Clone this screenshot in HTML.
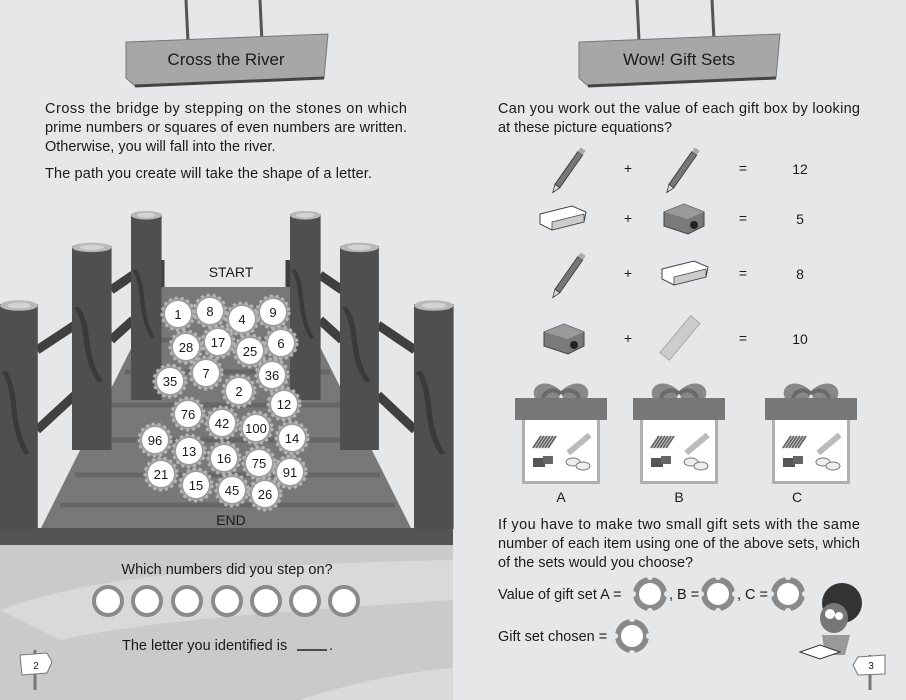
<!DOCTYPE html>
<html><head><meta charset="utf-8"><style>
html,body{margin:0;padding:0;background:#e6e7e8}
svg{display:block}
text{font-family:"Liberation Sans",sans-serif;fill:#1a1a1a}
</style></head><body>
<svg width="906" height="700" viewBox="0 0 906 700" xmlns="http://www.w3.org/2000/svg">
<defs>
<g id="stone">
<circle r="16" fill="#9a9a9a" stroke="#b5b5b5" stroke-width="3" stroke-dasharray="3 3"/>
<circle r="13" fill="#fff"/>
</g>
<g id="ans">
<circle r="17" fill="#8a8a8a"/>
<circle r="11" fill="#fff"/>
<circle cx="0" cy="-17" r="3" fill="#e6e7e8"/><circle cx="0" cy="17" r="3" fill="#e6e7e8"/>
<circle cx="-17" cy="0" r="3" fill="#e6e7e8"/><circle cx="17" cy="0" r="3" fill="#e6e7e8"/>
</g>
<g id="post">
<rect x="0" y="0" width="36" height="300" fill="#4f4f4f"/>
<path d="M4 90 C18 120 8 160 26 200" stroke="#3a3a3a" stroke-width="5" fill="none"/>
<ellipse cx="18" cy="2" rx="18" ry="7" fill="#b8b8b8"/>
<ellipse cx="18" cy="2" rx="11" ry="4" fill="#d3d3d3"/>
</g>
<g id="pencil"><g transform="rotate(-55)">
<rect x="-22" y="-3" width="40" height="6" fill="#777" stroke="#333" stroke-width="0.8"/>
<polygon points="-22,-3 -30,0 -22,3" fill="#ddd" stroke="#333" stroke-width="0.8"/>
<rect x="18" y="-3" width="5" height="6" fill="#aaa"/></g></g>
<g id="eraser"><path d="M-22 -4 L10 -12 L24 -6 L22 4 L-10 12 L-22 6 Z" fill="#fff" stroke="#444" stroke-width="1"/><path d="M-10 4 L22 -4 L22 4 L-10 12Z" fill="#ccc" stroke="#444" stroke-width="0.8"/></g>
<g id="sharp"><path d="M-20 -6 L0 -14 L20 -6 L20 8 L4 16 L-20 8Z" fill="#7a7a7a" stroke="#444"/><path d="M-20 -6 L0 -14 L20 -6 L4 1Z" fill="#9a9a9a"/><circle cx="10" cy="7" r="4" fill="#222"/></g>
<g id="gift">
<path d="M46 5 C30 -10 14 0 20 12 L44 12Z" fill="#888"/><path d="M46 5 C62 -10 78 0 72 12 L48 12Z" fill="#888"/>
<path d="M28 12 C30 4 40 2 46 8" stroke="#6a6a6a" stroke-width="4" fill="none"/>
<path d="M64 12 C62 4 52 2 46 8" stroke="#6a6a6a" stroke-width="4" fill="none"/>
<rect x="0" y="12" width="92" height="22" fill="#777"/>
<rect x="7" y="34" width="78" height="64" fill="#b0b0b0"/>
<rect x="10" y="34" width="72" height="61" fill="#fff"/>
<g stroke="#666" stroke-width="2"><path d="M18 62 L26 50 M21 62 L29 50 M24 62 L32 50 M27 62 L35 50 M30 62 L38 50 M33 62 L41 50"/></g>
<rect x="50" y="55" width="28" height="6" fill="#bbb" transform="rotate(-40 64 58)"/>
<rect x="18" y="72" width="12" height="9" fill="#555"/><rect x="28" y="70" width="10" height="8" fill="#666"/>
<ellipse cx="58" cy="76" rx="7" ry="4" fill="#eee" stroke="#777"/><ellipse cx="68" cy="80" rx="7" ry="4" fill="#eee" stroke="#777"/>
</g>
</defs>

<g stroke="#555" stroke-width="3"><line x1="186" y1="0" x2="188" y2="42"/><line x1="260" y1="0" x2="262" y2="42"/>
<line x1="637" y1="0" x2="639" y2="40"/><line x1="712" y1="0" x2="714" y2="40"/></g>
<path d="M126 42 L328 34 L324 78 L135 86 L126 78Z" fill="#a7a7a7" stroke="#777"/>
<path d="M135 86 L324 78" stroke="#444" stroke-width="3"/>
<text x="226" y="65" font-size="17" text-anchor="middle">Cross the River</text>
<path d="M579 42 L780 34 L776 78 L588 86 L579 78Z" fill="#a7a7a7" stroke="#777"/>
<path d="M588 86 L776 78" stroke="#444" stroke-width="3"/>
<text x="679" y="65" font-size="17" text-anchor="middle">Wow! Gift Sets</text>

<g font-size="14.5">
<text x="45" y="113" textLength="362" lengthAdjust="spacing">Cross the bridge by stepping on the stones on which</text>
<text x="45" y="132" textLength="362" lengthAdjust="spacing">prime numbers or squares of even numbers are written.</text>
<text x="45" y="151">Otherwise, you will fall into the river.</text>
<text x="45" y="178" textLength="327" lengthAdjust="spacing">The path you create will take the shape of a letter.</text>
</g>

<rect x="0" y="545" width="453" height="155" fill="#cacaca"/>
<path d="M0 610 C80 580 200 565 453 560 L453 600 C300 610 150 620 60 640 Z" fill="#d9d9d9"/>
<path d="M300 700 C360 680 420 670 453 668 L453 700Z" fill="#dadada"/>

<g stroke="#3f3f3f" stroke-width="9" fill="none">
<path d="M37 350 L75 325 M37 430 L75 395 M111 290 L133 275 M111 340 L133 320"/>
<path d="M378 325 L415 350 M378 395 L415 430 M320 275 L342 290 M320 320 L342 340"/>
<path d="M160 260 L160 290 M290 260 L290 290"/>
</g>
<polygon points="162,287 290,287 412,530 40,530" fill="#787878"/>
<g stroke="#666" stroke-width="5">
<line x1="150" y1="312" x2="302" y2="312"/><line x1="140" y1="340" x2="316" y2="340"/><line x1="125" y1="372" x2="330" y2="372"/>
<line x1="110" y1="405" x2="345" y2="405"/><line x1="92" y1="440" x2="360" y2="440"/><line x1="75" y1="475" x2="380" y2="475"/><line x1="60" y1="505" x2="395" y2="505"/>
</g>
<rect x="0" y="528" width="453" height="17" fill="#545454"/>
<use href="#post" transform="translate(131,214) scale(0.85,0.62)"/>
<use href="#post" transform="translate(290,214) scale(0.85,0.62)"/>
<use href="#post" transform="translate(72,246) scale(1.1,0.68)"/>
<use href="#post" transform="translate(340,246) scale(1.08,0.68)"/>
<use href="#post" transform="translate(0,304) scale(1.05,0.75)"/>
<use href="#post" transform="translate(414,304) scale(1.1,0.75)"/>

<text x="231" y="277" font-size="14" text-anchor="middle">START</text>
<text x="231" y="525" font-size="14" text-anchor="middle">END</text>

<g font-size="13" text-anchor="middle">
<use href="#stone" x="178" y="314"/><text x="178" y="319">1</text>
<use href="#stone" x="210" y="311"/><text x="210" y="316">8</text>
<use href="#stone" x="242" y="319"/><text x="242" y="324">4</text>
<use href="#stone" x="273" y="312"/><text x="273" y="317">9</text>
<use href="#stone" x="186" y="347"/><text x="186" y="352">28</text>
<use href="#stone" x="218" y="342"/><text x="218" y="347">17</text>
<use href="#stone" x="250" y="351"/><text x="250" y="356">25</text>
<use href="#stone" x="281" y="343"/><text x="281" y="348">6</text>
<use href="#stone" x="170" y="381"/><text x="170" y="386">35</text>
<use href="#stone" x="206" y="373"/><text x="206" y="378">7</text>
<use href="#stone" x="239" y="391"/><text x="239" y="396">2</text>
<use href="#stone" x="272" y="375"/><text x="272" y="380">36</text>
<use href="#stone" x="284" y="404"/><text x="284" y="409">12</text>
<use href="#stone" x="188" y="414"/><text x="188" y="419">76</text>
<use href="#stone" x="222" y="423"/><text x="222" y="428">42</text>
<use href="#stone" x="256" y="428"/><text x="256" y="433">100</text>
<use href="#stone" x="292" y="438"/><text x="292" y="443">14</text>
<use href="#stone" x="155" y="440"/><text x="155" y="445">96</text>
<use href="#stone" x="189" y="451"/><text x="189" y="456">13</text>
<use href="#stone" x="224" y="458"/><text x="224" y="463">16</text>
<use href="#stone" x="259" y="463"/><text x="259" y="468">75</text>
<use href="#stone" x="290" y="472"/><text x="290" y="477">91</text>
<use href="#stone" x="161" y="474"/><text x="161" y="479">21</text>
<use href="#stone" x="196" y="485"/><text x="196" y="490">15</text>
<use href="#stone" x="232" y="490"/><text x="232" y="495">45</text>
<use href="#stone" x="265" y="494"/><text x="265" y="499">26</text>
</g>

<text x="227" y="574" font-size="14.5" text-anchor="middle">Which numbers did you step on?</text>
<g fill="#fff" stroke="#8a8a8a" stroke-width="4">
<circle cx="108" cy="601" r="14"/><circle cx="147" cy="601" r="14"/><circle cx="187" cy="601" r="14"/><circle cx="227" cy="601" r="14"/><circle cx="266" cy="601" r="14"/><circle cx="305" cy="601" r="14"/><circle cx="344" cy="601" r="14"/>
</g>
<text x="122" y="650" font-size="14.5">The letter you identified is</text>
<line x1="297" y1="650" x2="327" y2="650" stroke="#222" stroke-width="1.5"/>
<text x="329" y="650" font-size="14.5">.</text>
<line x1="35" y1="650" x2="35" y2="690" stroke="#777" stroke-width="3"/>
<path d="M20 655 L47 653 L52 662 L47 673 L22 675Z" fill="#fff" stroke="#777"/>
<text x="36" y="669" font-size="10" text-anchor="middle">2</text>

<g font-size="14.5">
<text x="498" y="113" textLength="362" lengthAdjust="spacing">Can you work out the value of each gift box by looking</text>
<text x="498" y="132">at these picture equations?</text>
</g>
<g font-size="14" text-anchor="middle">
<use href="#pencil" x="570" y="168"/><text x="628" y="173">+</text><use href="#pencil" x="684" y="168"/><text x="743" y="173">=</text><text x="800" y="174">12</text>
<use href="#eraser" x="562" y="218"/><text x="628" y="223">+</text><use href="#sharp" x="684" y="218"/><text x="743" y="223">=</text><text x="800" y="224">5</text>
<use href="#pencil" x="570" y="273"/><text x="628" y="278">+</text><use href="#eraser" x="684" y="273"/><text x="743" y="278">=</text><text x="800" y="279">8</text>
<use href="#sharp" x="564" y="338"/><text x="628" y="343">+</text>
<g transform="translate(680,338) rotate(-50)"><rect x="-24" y="-6" width="48" height="12" fill="#ccc" stroke="#aaa"/></g>
<text x="743" y="343">=</text><text x="800" y="344">10</text>
</g>

<use href="#gift" x="515" y="386"/>
<use href="#gift" x="633" y="386"/>
<use href="#gift" x="765" y="386"/>
<g font-size="14" text-anchor="middle"><text x="561" y="502">A</text><text x="679" y="502">B</text><text x="797" y="502">C</text></g>

<g font-size="14.5">
<text x="498" y="529" textLength="362" lengthAdjust="spacing">If you have to make two small gift sets with the same</text>
<text x="498" y="548" textLength="362" lengthAdjust="spacing">number of each item using one of the above sets, which</text>
<text x="498" y="567">of the sets would you choose?</text>
<text x="498" y="599">Value of gift set A =</text>
<text x="669" y="599">, B =</text>
<text x="737" y="599">, C =</text>
<text x="498" y="641">Gift set chosen =</text>
</g>
<use href="#ans" x="650" y="594"/>
<use href="#ans" x="718" y="594"/>
<use href="#ans" x="788" y="594"/>
<use href="#ans" x="632" y="636"/>

<circle cx="842" cy="603" r="20" fill="#333"/>
<ellipse cx="834" cy="618" rx="14" ry="15" fill="#777"/>
<circle cx="830" cy="614" r="5" fill="#fff"/><circle cx="839" cy="616" r="4" fill="#fff"/>
<path d="M822 635 L850 635 L845 655 L825 655Z" fill="#999"/>
<path d="M800 652 L820 645 L840 652 L820 659Z" fill="#fff" stroke="#333"/>
<line x1="870" y1="655" x2="870" y2="690" stroke="#777" stroke-width="3"/>
<path d="M885 655 L858 657 L853 665 L858 675 L885 674Z" fill="#fff" stroke="#777"/>
<text x="871" y="669" font-size="10" text-anchor="middle">3</text>
</svg>
</body></html>
